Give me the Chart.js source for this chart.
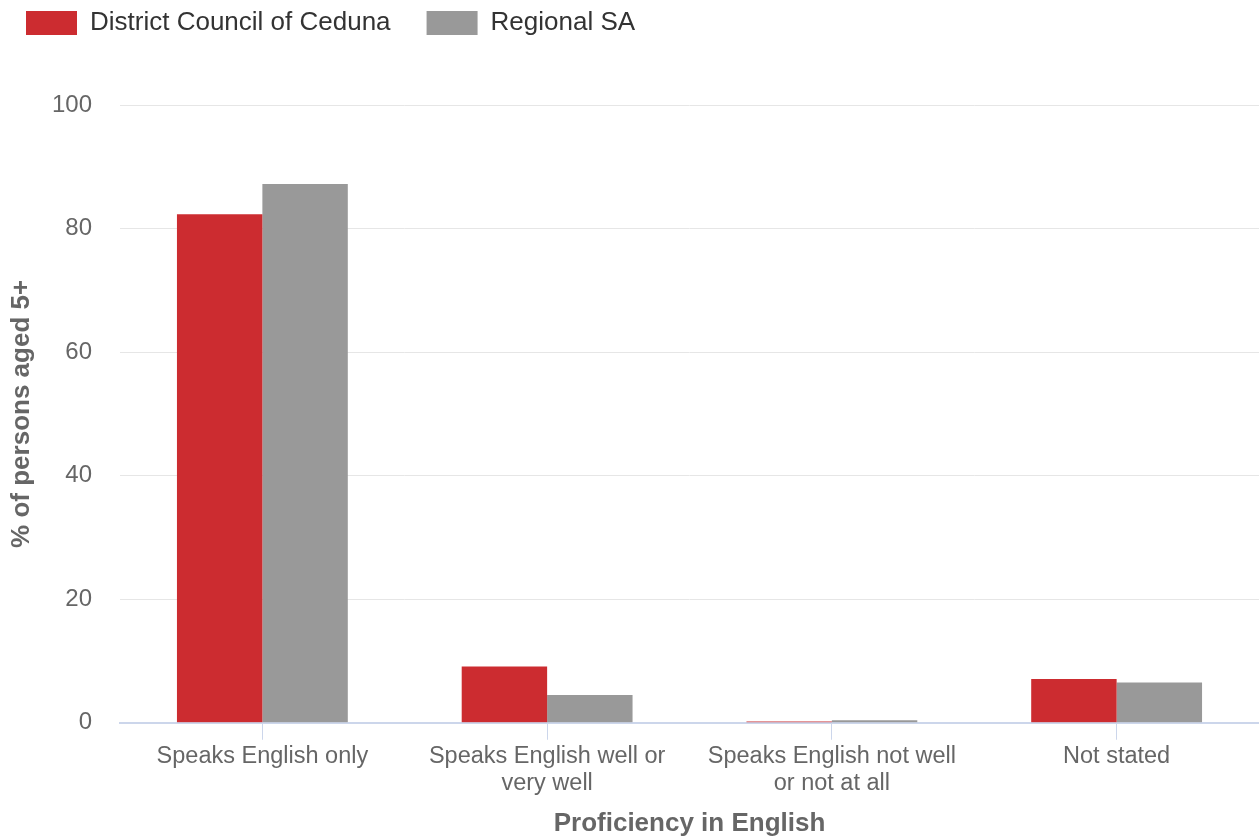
<!DOCTYPE html>
<html lang="en">
<head>
    <meta charset="UTF-8">
    <title>Proficiency in English</title>
    <style>
        body { margin: 0; background: #fff; }
        #wrap { width: 1259px; height: 839px; }
    </style>
</head>
<body>
    <div id="wrap"><canvas id="myChart"></canvas></div>

    <script src="https://cdn.jsdelivr.net/npm/chart.js@4/dist/chart.umd.min.js"></script>
    <script>
        var categories = [
            'Speaks English only',
            ['Speaks English well or', 'very well'],
            ['Speaks English not well', 'or not at all'],
            'Not stated'
        ];
        var seriesNames = ['District Council of Ceduna', 'Regional SA'];
        var ceduna = [82.3, 9.1, 0.2, 7.1];
        var regional = [87.2, 4.5, 0.4, 6.5];
        var yTicks = [0, 20, 40, 60, 80, 100];

        var fontFamily = 'Arial, "Liberation Sans", sans-serif';

        // nudge the legend so it sits in the top left corner
        var legendShift = {
            id: 'legendShift',
            afterLayout: function(chart){
                chart.legend.left = -10;
                chart.legend.top = -26;
            }
        };

        var ctx = document.getElementById('myChart').getContext('2d');
        var chart = new Chart(ctx, {
            type: 'bar',
            data: {
                labels: categories,
                datasets: [
                    { label: seriesNames[0], data: ceduna, backgroundColor: '#cc2c30' },
                    { label: seriesNames[1], data: regional, backgroundColor: '#999999' }
                ]
            },
            options: {
                responsive: true,
                maintainAspectRatio: false,
                animation: false,
                categoryPercentage: 0.6,
                barPercentage: 1.0,
                layout: { padding: { top: 33, right: 0, bottom: 0, left: 4 } },
                plugins: {
                    legend: {
                        position: 'top',
                        align: 'start',
                        labels: {
                            boxWidth: 51,
                            boxHeight: 24,
                            padding: 36,
                            color: '#333333',
                            font: { family: fontFamily, size: 26 }
                        }
                    },
                    tooltip: { enabled: false }
                },
                scales: {
                    x: {
                        grid: {
                            offset: false,
                            drawOnChartArea: false,
                            drawTicks: true,
                            tickLength: 17,
                            color: '#ccd6eb'
                        },
                        border: { color: '#ccd6eb', width: 2 },
                        ticks: {
                            color: '#666666',
                            padding: 3,
                            maxRotation: 0,
                            font: { family: fontFamily, size: 23.5, lineHeight: 1.15 }
                        },
                        title: {
                            display: true,
                            text: 'Proficiency in English',
                            color: '#666666',
                            padding: { top: 8, bottom: 0 },
                            font: { family: fontFamily, size: 26, weight: 'bold' }
                        }
                    },
                    y: {
                        min: 0,
                        max: 100,
                        afterBuildTicks: function(axis){
                            axis.ticks = yTicks.map(function(v){ return { value: v }; });
                        },
                        afterFit: function(axis){
                            axis.width = 116;
                        },
                        grid: { color: '#e6e6e6', drawTicks: false },
                        border: { display: false },
                        ticks: {
                            color: '#666666',
                            padding: 28,
                            font: { family: fontFamily, size: 24 }
                        },
                        title: {
                            display: true,
                            text: '% of persons aged 5+',
                            color: '#666666',
                            padding: { top: 2, bottom: 15 },
                            font: { family: fontFamily, size: 26, weight: 'bold' }
                        }
                    }
                }
            },
            plugins: [legendShift]
        });
    </script>
</body>
</html>
